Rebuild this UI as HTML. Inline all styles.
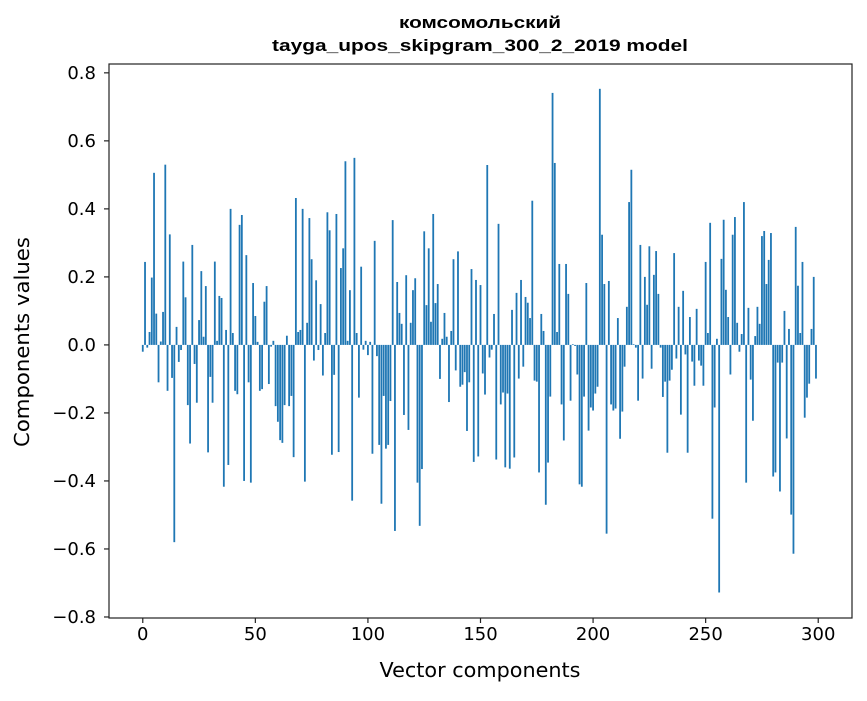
<!DOCTYPE html>
<html><head><meta charset="utf-8"><style>
body{margin:0;background:#fff;font-family:"Liberation Sans","DejaVu Sans",sans-serif}
svg text{font-family:"DejaVu Sans","Liberation Sans",sans-serif}
</style></head><body>
<svg id="c" width="867" height="696" xmlns="http://www.w3.org/2000/svg"></svg>
<script>
const values=[-0.02,0.244,-0.008,0.038,0.198,0.506,0.092,-0.11,0.01,0.097,0.53,-0.135,0.325,-0.097,-0.58,0.053,-0.05,-0.015,0.245,0.14,
-0.177,-0.29,0.294,-0.056,-0.17,0.073,0.217,0.024,0.173,-0.316,-0.094,-0.17,0.245,0.012,0.144,0.138,-0.417,0.044,-0.353,0.4,
0.035,-0.135,-0.145,0.353,0.382,-0.4,0.264,-0.11,-0.405,0.182,0.085,0.009,-0.135,-0.13,0.127,0.173,-0.115,-0.005,0.012,-0.18,
-0.226,-0.28,-0.288,-0.177,0.027,-0.18,-0.15,-0.33,0.432,0.038,0.044,0.4,-0.402,0.065,0.373,0.252,-0.046,0.19,-0.015,0.12,
-0.09,0.035,0.39,0.337,-0.323,-0.088,0.385,-0.315,0.226,0.284,0.54,0.012,0.161,-0.458,0.55,0.035,-0.155,0.23,-0.014,0.012,
-0.03,0.009,-0.32,0.306,-0.033,-0.294,-0.467,-0.15,-0.305,-0.294,-0.165,0.367,-0.547,0.185,0.094,0.062,-0.206,0.205,-0.25,0.065,
0.161,0.196,-0.405,-0.532,-0.365,0.334,0.117,0.284,0.068,0.385,0.123,0.179,-0.1,0.018,0.094,0.024,-0.168,0.041,0.252,-0.075,
0.275,-0.123,-0.117,-0.08,-0.253,-0.11,0.223,-0.344,0.191,-0.328,0.176,-0.084,-0.146,0.529,-0.037,-0.014,0.091,-0.337,0.356,-0.175,
-0.14,-0.36,-0.143,-0.364,0.103,-0.331,0.153,-0.099,0.191,-0.064,0.141,0.124,0.079,0.424,-0.105,-0.108,-0.375,0.091,0.041,-0.47,
-0.346,-0.152,0.741,0.535,0.038,0.238,-0.175,-0.281,0.238,0.15,-0.164,0.002,-0.003,-0.087,-0.41,-0.417,-0.152,0.182,-0.252,-0.184,
-0.193,-0.143,-0.123,0.753,0.324,0.179,-0.555,0.188,-0.175,-0.193,-0.187,0.079,-0.276,-0.196,-0.064,0.112,0.42,0.515,0.002,-0.008,
-0.164,0.294,-0.099,0.2,0.118,0.29,-0.07,0.206,0.276,0.15,-0.008,-0.153,-0.108,-0.317,-0.105,-0.073,0.27,-0.04,0.112,-0.205,
0.159,-0.028,-0.317,0.082,-0.049,-0.12,0.106,-0.046,-0.061,-0.12,0.244,0.035,0.359,-0.511,-0.184,0.018,-0.728,0.253,0.368,0.162,
0.082,-0.087,0.324,0.376,0.065,-0.02,0.032,0.42,-0.405,0.109,-0.102,-0.223,0.026,0.112,0.062,0.32,0.335,0.179,0.25,0.329,
-0.387,-0.375,-0.052,-0.431,-0.052,0.1,-0.275,0.047,-0.499,-0.614,0.347,0.174,0.035,0.244,-0.214,-0.155,-0.114,0.047,0.2,-0.099];
const xTicks=[0,50,100,150,200,250,300];
const yTicks=[-0.8,-0.6,-0.4,-0.2,0.0,0.2,0.4,0.6,0.8];
const L=109,R=852,T=64,B=618,XMIN=-15,XMAX=315,YMIN=-0.803,YMAX=0.826;
const sx=v=>L+(v-XMIN)/(XMAX-XMIN)*(R-L);
const sy=v=>T+(YMAX-v)/(YMAX-YMIN)*(B-T);
const NS="http://www.w3.org/2000/svg",svg=document.getElementById('c');
function mk(t,a,p){const e=document.createElementNS(NS,t);for(const k in a)e.setAttribute(k,a[k]);(p||svg).appendChild(e);return e;}
const bars=mk('g',{});


const bw=0.8*(sx(1)-sx(0));
values.forEach((v,i)=>{
  const y0=sy(0),y1=sy(v);
  const r=mk('rect',{x:sx(i)-bw/2,y:Math.min(y0,y1),width:bw,height:Math.max(Math.abs(y1-y0),0.3),fill:'#1f77b4'},bars);
  
  
});
const frame=mk('rect',{x:L,y:T,width:R-L,height:B-T,fill:'none',stroke:'#222','stroke-width':1.2});


xTicks.forEach(t=>{
  const x=sx(t);
  mk('line',{x1:x,x2:x,y1:B,y2:B+5,stroke:'#222','stroke-width':1.2});
  const tx=mk('text',{x:x,y:B+22,'text-anchor':'middle','font-size':'18'});
  tx.textContent=t;
  
  
});
yTicks.forEach(t=>{
  const y=sy(t);
  mk('line',{x1:L-5,x2:L,y1:y,y2:y,stroke:'#222','stroke-width':1.2});
  const tx=mk('text',{x:L-13,y:y+6,'text-anchor':'end','font-size':'18'});
  tx.textContent=(t<0?'\u2212':'')+Math.abs(t).toFixed(1);
  
  
});
</script>
<svg style="position:absolute;left:0;top:0" width="867" height="696" xmlns="http://www.w3.org/2000/svg">
<text x="480" y="28" text-anchor="middle" font-size="17" font-weight="bold" textLength="162" lengthAdjust="spacingAndGlyphs" style="font-family:'Liberation Sans',sans-serif">комсомольский</text>
<text x="480" y="51" text-anchor="middle" font-size="17" font-weight="bold" textLength="416" lengthAdjust="spacingAndGlyphs" style="font-family:'Liberation Sans',sans-serif">tayga_upos_skipgram_300_2_2019 model</text>
<text x="480" y="677" text-anchor="middle" font-size="20" textLength="201" lengthAdjust="spacingAndGlyphs">Vector components</text>
<text transform="translate(29,342) rotate(-90)" text-anchor="middle" font-size="20" textLength="210" lengthAdjust="spacingAndGlyphs">Components values</text>
</svg>
</body></html>
